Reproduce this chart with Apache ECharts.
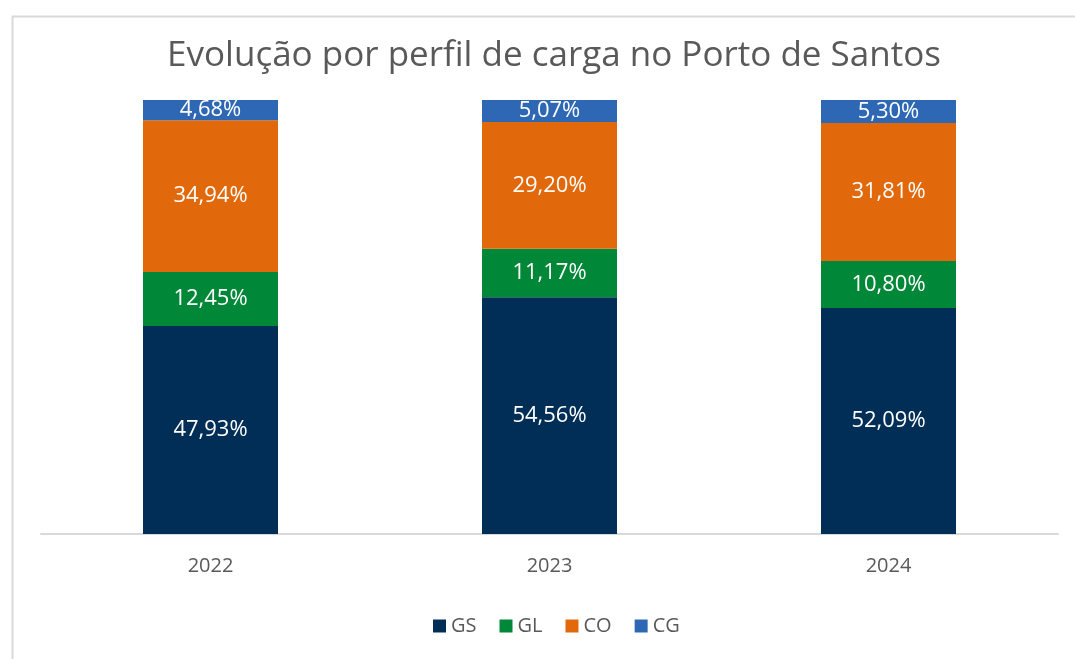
<!DOCTYPE html>
<html>
<head>
<meta charset="utf-8">
<script src="https://cdn.jsdelivr.net/npm/echarts@6/dist/echarts.min.js"></script>
<style>
  html, body { margin: 0; padding: 0; background: #fff; }
  #chart { width: 1075px; height: 659px; }
</style>
</head>
<body>
<div id="chart"></div>
<script>
const years = ['2022', '2023', '2024'];
const gs = [47.93, 54.56, 52.09];
const gl = [12.45, 11.17, 10.80];
const co = [34.94, 29.20, 31.81];
const cg = [4.68, 5.07, 5.30];

const font = '"Open Sans", "Noto Sans", sans-serif';

function fmt(p) {
  return p.value.toFixed(2).replace('.', ',') + '%';
}

function makeSeries(name, data, color) {
  return {
    name: name,
    type: 'bar',
    stack: 'total',
    data: data,
    barWidth: 135,
    itemStyle: {color: color},
    label: {
      show: true,
      position: 'inside',
      formatter: fmt,
      color: '#fff',
      fontFamily: font,
      fontSize: 22
    }
  };
}

const myChart = echarts.init(document.getElementById('chart'));
myChart.setOption({
  backgroundColor: '#fff',
  animation: false,
  title: {
    text: 'Evolução por perfil de carga no Porto de Santos',
    left: 549,
    top: 34,
    textAlign: 'center',
    textStyle: {color: '#595959', fontFamily: font, fontSize: 35, fontWeight: 'normal'}
  },
  graphic: [{
    type: 'rect',
    left: 10,
    top: 14,
    shape: {width: 1100, height: 700},
    style: {fill: 'none', stroke: '#d9d9d9', lineWidth: 2},
    silent: true
  }],
  legend: {
    left: 428,
    top: 611,
    itemWidth: 13,
    itemHeight: 13,
    itemGap: 23,
    icon: 'rect',
    textStyle: {color: '#595959', fontFamily: font, fontSize: 20}
  },
  grid: {left: 41, right: 17, top: 100, bottom: 125, containLabel: false},
  xAxis: {
    type: 'category',
    data: years,
    axisTick: {show: false},
    axisLine: {lineStyle: {color: '#d9d9d9', width: 2}},
    axisLabel: {color: '#595959', fontFamily: font, fontSize: 20, margin: 22}
  },
  yAxis: {
    type: 'value',
    min: 0,
    max: 100,
    show: false
  },
  series: [
    makeSeries('GS', gs, '#002e56'),
    makeSeries('GL', gl, '#008737'),
    makeSeries('CO', co, '#e1690c'),
    makeSeries('CG', cg, '#2e68b4')
  ]
});
</script>
</body>
</html>
